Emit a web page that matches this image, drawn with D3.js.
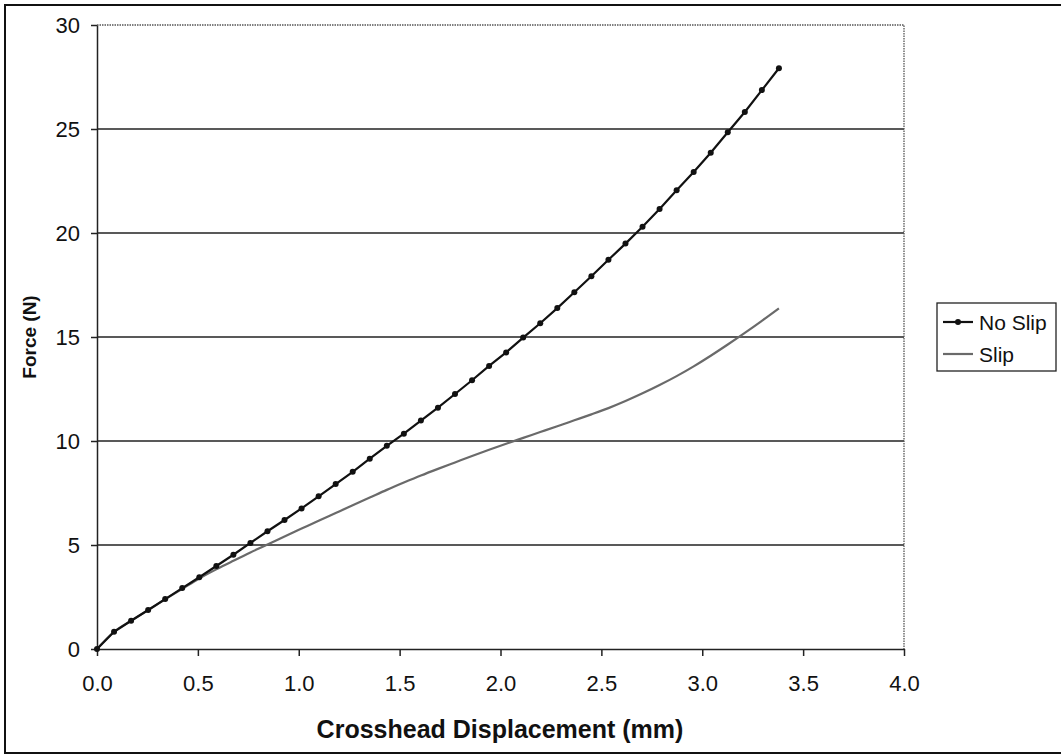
<!DOCTYPE html>
<html>
<head>
<meta charset="utf-8">
<script src="https://cdn.jsdelivr.net/npm/d3@7/dist/d3.min.js"></script>
<style>
  html, body { margin: 0; padding: 0; background: #fff; }
  svg { display: block; font-family: "Liberation Sans", Arial, sans-serif; }
</style>
</head>
<body>
<svg id="chart" width="1061" height="755"></svg>
<script>
// Crosshead displacement (mm) at each sample
const displacement = [0, 0.0845, 0.169, 0.2535, 0.338, 0.4225, 0.507, 0.5915, 0.676, 0.7605,
  0.845, 0.9295, 1.014, 1.0985, 1.183, 1.2675, 1.352, 1.4365, 1.521, 1.6055,
  1.69, 1.7745, 1.859, 1.9435, 2.028, 2.1125, 2.197, 2.2815, 2.366, 2.4505,
  2.535, 2.6195, 2.704, 2.7885, 2.873, 2.9575, 3.042, 3.1265, 3.211, 3.2955, 3.38];

// Force (N), no-slip condition
const forceNoSlip = [0, 0.83, 1.36, 1.875, 2.40, 2.93, 3.45, 3.99, 4.53, 5.10,
  5.66, 6.20, 6.76, 7.34, 7.93, 8.52, 9.15, 9.77, 10.35, 10.98,
  11.60, 12.26, 12.92, 13.61, 14.26, 14.97, 15.66, 16.39, 17.15, 17.92,
  18.71, 19.49, 20.30, 21.15, 22.05, 22.93, 23.86, 24.84, 25.82, 26.87, 27.92];

// Force (N), slip condition
const forceSlip = [0, 0.83, 1.36, 1.87, 2.39, 2.89, 3.39, 3.83, 4.24, 4.64,
  5.02, 5.41, 5.79, 6.17, 6.54, 6.91, 7.28, 7.65, 8.00, 8.34,
  8.66, 8.97, 9.28, 9.58, 9.87, 10.15, 10.43, 10.71, 10.995, 11.28,
  11.58, 11.92, 12.29, 12.69, 13.12, 13.59, 14.10, 14.64, 15.20, 15.78, 16.38];

const xTicks = [0, 0.5, 1.0, 1.5, 2.0, 2.5, 3.0, 3.5, 4.0];
const yTicks = [0, 5, 10, 15, 20, 25, 30];
const seriesNames = ["No Slip", "Slip"];

const svg = d3.select("#chart");

// outer frame
svg.append("rect")
  .attr("x", 5).attr("y", 5).attr("width", 1060).attr("height", 748)
  .attr("fill", "none").attr("stroke", "#111").attr("stroke-width", 2);

const plotL = 97, plotR = 904, plotT = 25, plotB = 649;
const x = d3.scaleLinear().domain([0, 4]).range([plotL, plotR]);
const y = d3.scaleLinear().domain([0, 30]).range([plotB, plotT]);

// horizontal gridlines
svg.append("g").selectAll("line")
  .data(yTicks.filter(v => v > 0 && v < 30))
  .join("line")
  .attr("x1", plotL).attr("x2", plotR)
  .attr("y1", d => y(d)).attr("y2", d => y(d))
  .attr("stroke", "#222").attr("stroke-width", 1.5);

// plot area border (top and right)
svg.append("path")
  .attr("d", `M${plotL},${plotT}H${plotR}V${plotB}`)
  .attr("fill", "none").attr("stroke", "#555")
  .attr("stroke-width", 1.3).attr("stroke-dasharray", "1.5,1");

// axes
const xAxis = d3.axisBottom(x).tickValues(xTicks).tickFormat(d3.format(".1f"))
  .tickSizeInner(7).tickSizeOuter(0).tickPadding(19);
const yAxis = d3.axisLeft(y).tickValues(yTicks).tickFormat(d3.format("d"))
  .tickSizeInner(6).tickSizeOuter(0).tickPadding(11);

const gx = svg.append("g").attr("transform", `translate(0,${plotB})`).call(xAxis);
const gy = svg.append("g").attr("transform", `translate(${plotL},0)`).call(yAxis);
[gx, gy].forEach(g => {
  g.select(".domain").attr("stroke", "#222").attr("stroke-width", 1.5);
  g.selectAll(".tick line").attr("stroke", "#222").attr("stroke-width", 1.5);
  g.selectAll(".tick text").attr("fill", "#111")
    .style("font-size", "22px").style("font-family", "'Liberation Sans', Arial, sans-serif");
});

// axis titles
svg.append("text")
  .attr("x", 500).attr("y", 738)
  .attr("text-anchor", "middle")
  .style("font-size", "25px").style("font-weight", "bold").attr("fill", "#111")
  .text("Crosshead Displacement (mm)");

svg.append("text")
  .attr("transform", `translate(36,${(plotT + plotB) / 2}) rotate(-90)`)
  .attr("text-anchor", "middle")
  .style("font-size", "19px").style("font-weight", "bold").attr("fill", "#111")
  .text("Force (N)");

const line = d3.line().x(d => x(d[0])).y(d => y(d[1]));
const smooth = d3.line().x(d => x(d[0])).y(d => y(d[1])).curve(d3.curveMonotoneX);
const slipPts = displacement.map((d, i) => [d, forceSlip[i]]);
const noSlipPts = displacement.map((d, i) => [d, forceNoSlip[i]]);

// Slip series (grey line, no markers)
svg.append("path").datum(slipPts)
  .attr("d", smooth).attr("fill", "none")
  .attr("stroke", "#6a6a6a").attr("stroke-width", 2.2);

// No Slip series (black line with dot markers)
svg.append("path").datum(noSlipPts)
  .attr("d", line).attr("fill", "none")
  .attr("stroke", "#111").attr("stroke-width", 2.2);
svg.append("g").selectAll("circle")
  .data(noSlipPts).join("circle")
  .attr("cx", d => x(d[0])).attr("cy", d => y(d[1]))
  .attr("r", 3).attr("fill", "#111");

// legend
const lg = svg.append("g");
lg.append("rect")
  .attr("x", 937).attr("y", 303).attr("width", 119).attr("height", 68)
  .attr("fill", "#fff").attr("stroke", "#222").attr("stroke-width", 1.3);
const legendRows = [
  { name: seriesNames[0], color: "#111", marker: true, yy: 322 },
  { name: seriesNames[1], color: "#6a6a6a", marker: false, yy: 354 }
];
legendRows.forEach(r => {
  lg.append("line").attr("x1", 943).attr("x2", 973)
    .attr("y1", r.yy).attr("y2", r.yy)
    .attr("stroke", r.color).attr("stroke-width", 2.2);
  if (r.marker) lg.append("circle").attr("cx", 958).attr("cy", r.yy).attr("r", 3).attr("fill", "#111");
  lg.append("text").attr("x", 979).attr("y", r.yy + 8)
    .style("font-size", "21px").attr("fill", "#111").text(r.name);
});
</script>
</body>
</html>
